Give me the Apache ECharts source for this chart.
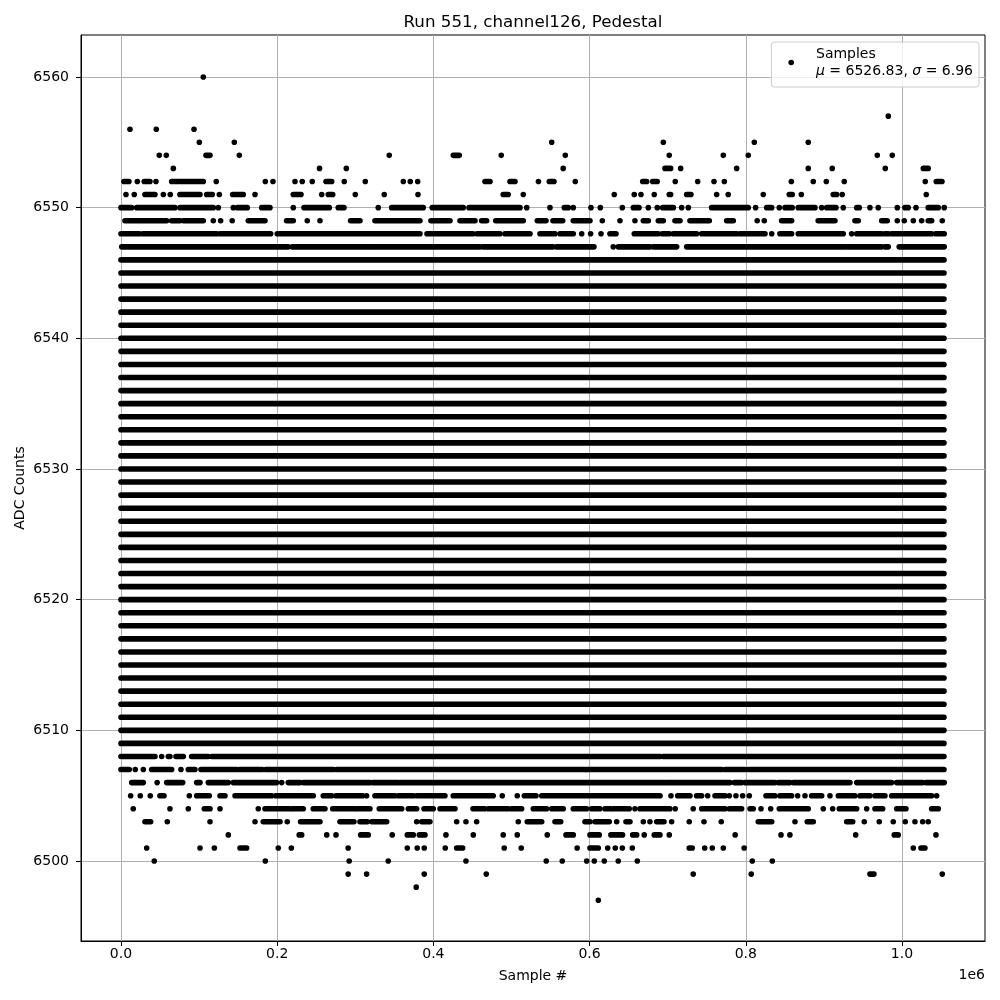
<!DOCTYPE html>
<html><head><meta charset="utf-8">
<script src="https://cdn.jsdelivr.net/npm/echarts@6/dist/echarts.min.js"></script>
<style>html,body{margin:0;padding:0;background:#fff}#c{width:1000px;height:1000px}</style>
</head><body><div id="c"></div>
<script>
const chartTitle = 'Run 551, channel126, Pedestal';
const xAxisName = 'Sample #';
const yAxisName = 'ADC Counts';
const seriesName = 'Samples';
const meanADC = 6526.83;
const sigmaADC = 6.96;
const xTickValues = [0, 200000, 400000, 600000, 800000, 1000000];
const yTickValues = [6500, 6510, 6520, 6530, 6540, 6550, 6560];

// Sample positions below are in thousands of samples.
// A single number is one isolated sample; a pair [a, b] is a dense run of samples from a to b.
const firstSampleK = 0;
const lastSampleK = 1053.8;
// ADC levels populated densely over the whole run
const solidLevels = [6509, 6510, 6511, 6512, 6513, 6514, 6515, 6516, 6517, 6518, 6519, 6520, 6521, 6522, 6523, 6524, 6525, 6526, 6527, 6528, 6529, 6530, 6531, 6532, 6533, 6534, 6535, 6536, 6537, 6538, 6539, 6540, 6541, 6542, 6543, 6544, 6545, 6546];

const L6560 = [105.4];
const L6557 = [982.5];
const L6556 = [11.5, 45.2, 93.5];
const L6555 = [100.3, 145.1, 551.5, 694.4, 810.9, 880.0];
const L6554 = [49.0, 58.0, [108.8, 114.0], 151.5, 343.5, [425.5, 433.2], 486.9, 568.9, 702.0, 771.2, 803.2, 968.4, 987.6];
const L6553 = [67.0, 254.2, 288.5, 566.2, [696.5, 703.8], 716.6, 788.3, 880.0, 910.7, 978.6, [1027.3, 1033.6]];
const L6552 = [[3.8, 10.2], 20.9, [29.8, 37.1], 44.8, [64.9, 105.4], 122.0, 184.8, 194.6, 222.8, 232.1, 244.9, [262.5, 269.8], 285.9, 312.8, 361.5, 370.4, 379.9, [466.1, 472.5], [498.1, 504.5], 534.5, [548.4, 554.4], 581.7, [668.0, 673.1], [680.8, 686.6], 709.7, 738.4, 759.3, 772.5, 858.3, 886.4, 903.1, 926.1, 1029.8, [1043.9, 1051.2]];
const L6551 = [6.4, 17.0, [30.7, 43.5], 54.2, 63.1, [75.5, 101.2], [109.7, 116.9], 125.9, [143.0, 156.6], 171.6, [220.6, 230.5], 257.0, [265.4, 271.1], 300.0, 337.1, 380.3, [489.4, 495.8], 515.1, 631.6, 657.2, 665.8, 682.8, [702.0, 703.8], [724.3, 729.8], 762.7, 777.5, 822.4, [855.7, 859.5], 871.1, [912.0, 916.4], 923.5, 1031.1];
const L6550 = [[0, 13.7], [20.1, 69.1], [75.5, 118.2], 124.6, 143.8, [148.9, 161.7], [180.2, 190.8], 220.6, [234.3, 266.7], [278.2, 285.5], 329.4, [346.6, 387.0], [398.5, 438.2], [445.6, 510.9], 519.5, 549.3, [567.6, 572.7], 579.1, 601.8, 613.7, 641.9, [656.0, 663.3], 675.2, 686.7, [693.6, 707.2], 717.9, 726.4, [756.3, 803.2], 812.6, [826.8, 833.2], 842.9, [850.2, 859.5], [867.2, 888.6], 897.2, [903.6, 915.5], 924.8, [942.0, 945.3], 959.0, 969.6, 994.0, [1003.8, 1008.0], 1017.9, [1033.6, 1046.5], 1054.1];
const L6549 = [[5.1, 58.5], [64.9, 75.5], [79.8, 105.4], 118.2, 127.6, 142.4, [163.0, 184.4], [212.0, 220.6], 238.5, 254.8, [294.0, 306.0], [325.2, 382.8], [396.9, 421.3], [434.1, 453.3], [461.8, 468.2], [479.8, 515.1], [533.0, 544.2], [553.1, 565.6], [579.1, 600.5], 616.3, 638.9, 658.1, [668.8, 675.2], [688.0, 694.4], [709.3, 715.8], [728.5, 753.3], [775.5, 784.0], 814.6, 823.7, [845.9, 858.7], [892.7, 914.2], [939.8, 944.0], [974.0, 981.2], 994.0, 1002.9, 1014.5, 1025.2, [1033.6, 1038.0], 1051.6];
const L6548 = [[0, 23.4], [27.8, 122.5], [126.8, 191.7], [200.1, 382.8], [391.8, 450.7], [455.8, 485.3], [491.7, 523.7], [536.5, 555.7], [562.1, 579.1], 589.9, 601.3, 614.6, [626.1, 633.8], [657.2, 687.9], [693.0, 702.0], [707.1, 737.1], [743.5, 788.3], [792.5, 824.6], 833.2, [843.7, 858.7], [867.2, 924.8], 935.5, [942.0, 974.0], [978.2, 982.4], [986.8, 1038.0], [1043.1, 1054.1]];
const L6547 = [[0.9, 214.2], [219.3, 322.7], [325.2, 459.7], [463.5, 553.1], [557.4, 605.6], 630.3, [636.7, 677.3], [681.4, 711.5], [724.3, 927.0], [929.9, 974.0], [978.2, 982.4], [996.4, 1054.1]];

const L6508 = [[0, 43.5], 52.1, [60.6, 62.7], [70.4, 79.8], [90.5, 111.8], [116.1, 690.5], [694.0, 1053.8]];
const L6507 = [[0, 10.6], 18.3, 28.6, [39.3, 64.9], 76.8, [86.2, 94.7], [102.4, 148.1], [151.5, 180.9], [185.3, 271.8], [276.2, 594.1], [596.3, 769.1], [773.4, 799.0], [803.2, 1053.8]];
const L6506 = [[13.7, 28.6], 46.3, [58.5, 79.0], [96.9, 101.2], [111.8, 137.4], [143.8, 199.4], 205.8, [214.2, 229.2], [233.4, 318.8], [322.3, 355.1], [357.2, 696.5], [698.7, 779.8], [785.3, 794.7], [799.0, 837.4], [841.6, 856.5], [860.8, 933.4], [942.0, 986.8], [993.2, 1026.5], [1030.7, 1054.1]];
const L6505 = [12.4, 24.7, 37.5, [49.9, 55.1], 87.5, [96.9, 113.0], [126.8, 133.2], [146.0, 193.0], [198.1, 246.2], [259.0, 269.8], [275.3, 309.5], 314.5, [325.2, 350.8], [355.1, 374.3], [378.6, 414.8], [425.4, 476.6], 488.2, 507.4, [516.4, 531.4], [538.7, 690.2], 704.2, [712.8, 728.5], [737.0, 743.5], 751.2, [760.6, 773.4], 778.9, 787.4, 796.0, 804.5, [825.9, 837.4], [843.7, 858.7], 866.4, 875.8, [884.3, 897.2], 907.8, [918.5, 939.8], [946.2, 959.0], [965.4, 978.2], [986.8, 1038.0], 1044.4];
const L6504 = [15.7, 62.7, 86.2, [106.7, 114.0], 126.8, 175.8, [184.4, 216.4], [219.8, 233.4], [246.2, 261.2], [271.1, 299.6], [302.8, 318.8], [330.7, 359.4], [367.9, 378.6], [388.0, 399.9], [408.5, 427.7], [450.7, 465.7], [470.3, 495.9], [500.2, 513.0], [527.9, 545.0], [551.5, 566.3], [579.1, 596.3], [602.7, 613.3], [619.7, 627.0], [630.3, 647.5], 650.8, 658.1, [664.5, 702.9], 709.7, 732.7, [743.5, 773.4], [778.9, 794.7], [805.4, 809.6], 819.5, 831.9, [842.9, 880.0], 899.2, 911.2, [919.7, 942.0], 954.8, [965.4, 975.3], [993.2, 1005.1], [1038.0, 1046.5]];
const L6503 = [[30.7, 38.0], 59.3, 114.0, 171.6, [182.2, 203.6], 212.9, [230.0, 254.8], [280.4, 298.3], [306.0, 315.4], [321.0, 340.2], 378.6, [385.0, 395.6], 429.8, 441.7, 455.4, 508.7, [520.2, 538.7], [555.7, 563.0], [594.1, 600.5], [606.9, 625.2], 634.7, [646.6, 651.7], 668.8, 677.3, [685.9, 695.3], 705.1, 727.6, 746.5, 768.6, [816.0, 833.2], 863.0, [878.7, 886.4], [929.2, 936.9], 951.7, 970.9, 988.8, 1004.2, 1016.6, 1026.5, 1033.6];
const L6502 = [137.4, [228.2, 231.4], 263.4, 275.3, [306.9, 316.6], 347.3, [366.6, 374.3], [382.0, 389.2], 416.1, 451.1, 489.4, 507.4, 545.8, [569.8, 579.1], [600.5, 612.4], [627.3, 642.2], [655.2, 660.3], 670.0, [682.8, 690.1], 702.0, 786.4, 845.1, 856.5, 940.7, [990.1, 995.2], 1043.5];
const L6501 = [32.9, 101.2, 119.5, [152.4, 160.9], 201.4, 218.1, 290.9, 366.6, 379.3, 388.3, 415.2, [429.8, 437.5], 490.7, 512.5, 584.1, [600.5, 611.2], 623.2, 632.9, 641.9, 654.7, [727.6, 731.4], 747.4, 757.1, 771.2, 797.9, 1014.5, [1024.3, 1029.4]];
const L6500 = [42.6, 184.8, 292.2, 342.2, 441.7, 544.5, 565.0, 596.3, 606.0, 618.8, 636.7, 661.1, 808.3, 834.0];
const L6499 = [290.9, 314.5, 388.3, 467.7, 732.7, 807.0, [959.0, 964.1], 1051.6];
const L6498 = [378.0];
const L6497 = [611.2];

// ---- build the data table from the arrays above ----
const K = 1000;
const tailLevels = [
  [6560, L6560], [6557, L6557], [6556, L6556], [6555, L6555], [6554, L6554], [6553, L6553],
  [6552, L6552], [6551, L6551], [6550, L6550], [6549, L6549], [6548, L6548], [6547, L6547],
  [6508, L6508], [6507, L6507], [6506, L6506], [6505, L6505], [6504, L6504], [6503, L6503],
  [6502, L6502], [6501, L6501], [6500, L6500], [6499, L6499], [6498, L6498], [6497, L6497]
];
const runData = [];
solidLevels.forEach(lv => runData.push([firstSampleK * K, lastSampleK * K, lv]));
tailLevels.forEach(([lv, runs]) => {
  runs.forEach(r => {
    if (Array.isArray(r)) runData.push([r[0] * K, r[1] * K, lv]);
    else runData.push([r * K, r * K, lv]);
  });
});

const FONT = 'DejaVu Sans';
const DOT = 5.6;
const chart = echarts.init(document.getElementById('c'), null, {renderer: 'canvas'});
chart.setOption({
  animation: false,
  backgroundColor: '#ffffff',
  title: {
    text: chartTitle, left: 528, top: 9, textAlign: 'center',
    textStyle: {fontFamily: FONT, fontSize: 16.7, fontWeight: 'normal', color: '#000'}
  },
  grid: {left: 81, right: 15, top: 35, bottom: 59, containLabel: false, outerBoundsMode: 'none',
    show: true, borderColor: '#000', borderWidth: 1, backgroundColor: 'transparent'},
  legend: {
    data: [seriesName],
    right: 21, top: 42, orient: 'vertical',
    icon: 'circle', itemWidth: DOT, itemHeight: DOT,
    padding: [5, 6, 9, 17],
    backgroundColor: 'rgba(255,255,255,0.8)', borderColor: '#cccccc', borderWidth: 1, borderRadius: 3,
    formatter: () => '{n|' + seriesName + '}\n{i|μ}{n| = ' + meanADC.toFixed(2) + ', }{i|σ}{n| = ' + sigmaADC.toFixed(2) + '}',
    textStyle: {
      fontFamily: FONT, fontSize: 14, color: '#000', padding: [0, 0, 0, 17],
      rich: {
        n: {fontFamily: FONT, fontSize: 14, color: '#000', lineHeight: 17},
        i: {fontFamily: FONT, fontSize: 14, color: '#000', fontStyle: 'italic', lineHeight: 17}
      }
    }
  },
  xAxis: {
    type: 'value', min: -51200, max: 1106300,
    name: xAxisName, nameLocation: 'middle', nameGap: 28, nameMoveOverlap: false,
    nameTextStyle: {fontFamily: FONT, fontSize: 14, color: '#000'},
    axisLine: {show: true, onZero: false, lineStyle: {color: '#000', width: 1}},
    axisTick: {show: true, length: 5, lineStyle: {color: '#000'}, customValues: xTickValues},
    axisLabel: {customValues: xTickValues, margin: 6, fontFamily: FONT, fontSize: 14, color: '#000',
      formatter: v => (v / 1e6).toFixed(1)},
    splitLine: {show: true, lineStyle: {color: '#b0b0b0', width: 1}}
  },
  yAxis: {
    type: 'value', min: 6493.88, max: 6563.21,
    name: yAxisName, nameLocation: 'middle', nameGap: 54, nameMoveOverlap: false,
    nameTextStyle: {fontFamily: FONT, fontSize: 14, color: '#000'},
    axisLine: {show: true, onZero: false, lineStyle: {color: '#000', width: 1}},
    axisTick: {show: true, length: 5, lineStyle: {color: '#000'}, customValues: yTickValues},
    axisLabel: {customValues: yTickValues, margin: 12, fontFamily: FONT, fontSize: 14, color: '#000',
      formatter: v => String(Math.round(v))},
    splitLine: {show: true, lineStyle: {color: '#b0b0b0', width: 1}}
  },
  graphic: [{
    type: 'text', right: 15, top: 968,
    style: {text: '1e6', fontFamily: FONT, fontSize: 14, fill: '#000'}
  }],
  series: [{
    type: 'custom', name: seriesName,
    itemStyle: {color: '#000'},
    encode: {x: [0, 1], y: 2},
    data: runData,
    renderItem: (params, api) => {
      const y = api.value(2);
      const a = api.coord([api.value(0), y]);
      const b = api.coord([api.value(1), y]);
      return {type: 'rect', shape: {x: a[0] - DOT / 2, y: a[1] - DOT / 2, width: b[0] - a[0] + DOT, height: DOT, r: DOT / 2},
        style: {fill: '#000'}};
    }
  }]
});
</script></body></html>
